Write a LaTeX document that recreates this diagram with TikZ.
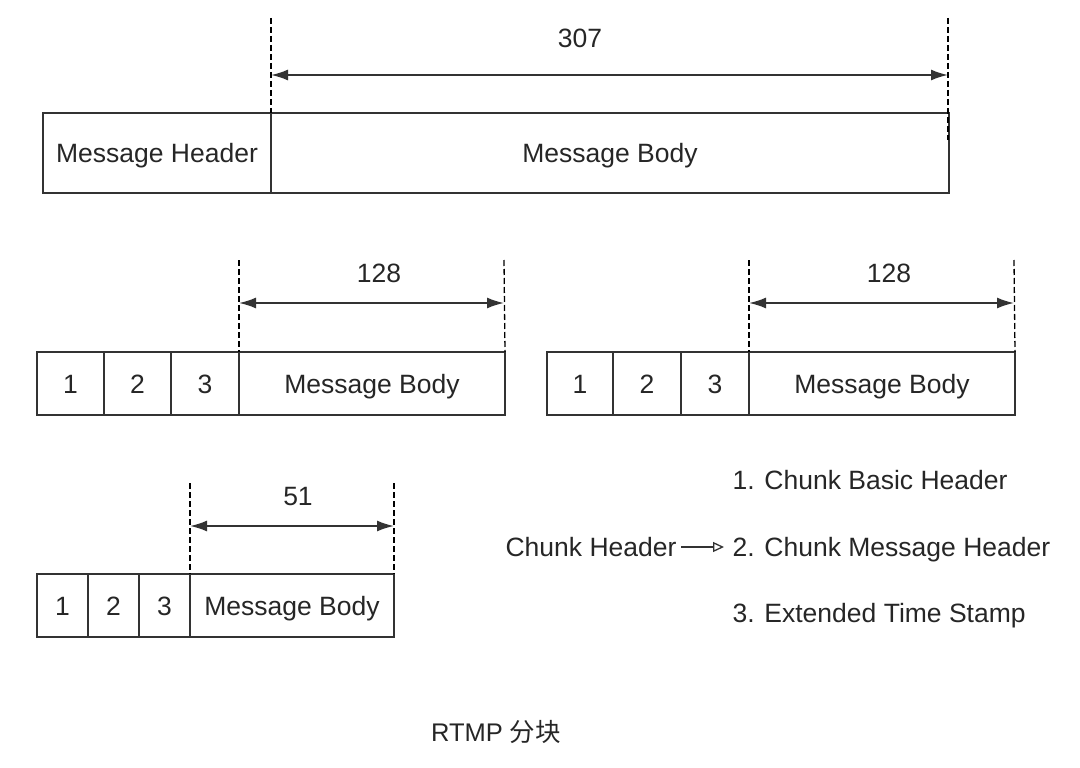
\documentclass[tikz,border=0pt]{standalone}
\usepackage{fontspec}
\setmainfont{Liberation Sans}
\newfontfamily\cjk{Noto Sans CJK SC}
\usetikzlibrary{positioning,arrows.meta}

\begin{document}
\begin{tikzpicture}[
        x=1pt, y=-1pt,
        every node/.style={font=\fontsize{26.5}{31}\selectfont, text=black!85, text height=19pt, text depth=0pt},
        box/.style={draw=black!80, line width=1.5pt, minimum height=63, inner sep=0pt, outer sep=0pt},
        dimline/.style={dash pattern=on 6pt off 3pt, line width=1.3pt},
        dimarrow/.style={{Latex[length=17pt,width=11pt]}-{Latex[length=17pt,width=11pt]}, line width=1.8pt, black!80}
        ]
        \useasboundingbox (0,0) rectangle (1080,768);
        % message
        \node[box, minimum width=228, minimum height=80, anchor=north west] (mhead) at (43,113) {Message Header};
        \node[box, minimum width=678, minimum height=80, right=0pt of mhead] (mbody) {Message Body};
        \coordinate (t1) at (271,18);
        \coordinate (t2) at (948,18);
        \coordinate (t2b) at (948,140);
        \draw[dimline] (t1) -- (mbody.north west);
        \draw[dimline] (t2) -- (t2b);
        \coordinate (m1) at (271,75);
        \coordinate (m2) at (948,75);
        \draw[dimarrow] (m1) -- (m2);
        \node (mlen) at (580,38) {307};
        % first chunk
        \node[box, minimum width=67, anchor=north west] (a1) at (37,352) {1};
        \node[box, minimum width=67, right=0pt of a1] (a2) {2};
        \node[box, minimum width=68, right=0pt of a2] (a3) {3};
        \node[box, minimum width=266, right=0pt of a3] (abody) {Message Body};
        \coordinate (at1) at (239,260);
        \coordinate (at2) at (504,260);
        \draw[dimline] (at1) -- (abody.north west);
        \draw[dimline] (at2) -- (abody.north east);
        \coordinate (am1) at (239,303);
        \coordinate (am2) at (504,303);
        \draw[dimarrow] (am1) -- (am2);
        \node (alen) at (379,273) {128};
        % second chunk
        \node[box, minimum width=66, anchor=north west] (b1) at (547,352) {1};
        \node[box, minimum width=68, right=0pt of b1] (b2) {2};
        \node[box, minimum width=68, right=0pt of b2] (b3) {3};
        \node[box, minimum width=266, right=0pt of b3] (bbody) {Message Body};
        \coordinate (bt1) at (749,260);
        \coordinate (bt2) at (1014,260);
        \draw[dimline] (bt1) -- (bbody.north west);
        \draw[dimline] (bt2) -- (bbody.north east);
        \coordinate (bm1) at (749,303);
        \coordinate (bm2) at (1014,303);
        \draw[dimarrow] (bm1) -- (bm2);
        \node (blen) at (889,273) {128};
        % third chunk
        \node[box, minimum width=51, anchor=north west] (c1) at (37,574) {1};
        \node[box, minimum width=51, right=0pt of c1] (c2) {2};
        \node[box, minimum width=51, right=0pt of c2] (c3) {3};
        \node[box, minimum width=204, right=0pt of c3] (cbody) {Message Body};
        \coordinate (ct1) at (190,483);
        \coordinate (ct2) at (394,483);
        \draw[dimline] (ct1) -- (cbody.north west);
        \draw[dimline] (ct2) -- (cbody.north east);
        \coordinate (cm1) at (190,526);
        \coordinate (cm2) at (394,526);
        \draw[dimarrow] (cm1) -- (cm2);
        \node (clen) at (298,496) {51};
        % legend
        \node[anchor=west] (l1) at (729,480) {1. Chunk Basic Header};
        \node[anchor=west] (l2) at (729,547) {2. Chunk Message Header};
        \node[anchor=west] (l3) at (729,613) {3. Extended Time Stamp};
        \node[anchor=east] (chead) at (680,547) {Chunk Header};
        \draw[-{Triangle[open,length=11pt,width=10pt]}, line width=1.3pt, black!80, shorten <=1pt, shorten >=5pt] (chead) -- (l2);
        \node[font=\fontsize{25.5}{30}\selectfont] (title) at (496,732) {RTMP {\cjk 分块}};
\end{tikzpicture}
\end{document}
